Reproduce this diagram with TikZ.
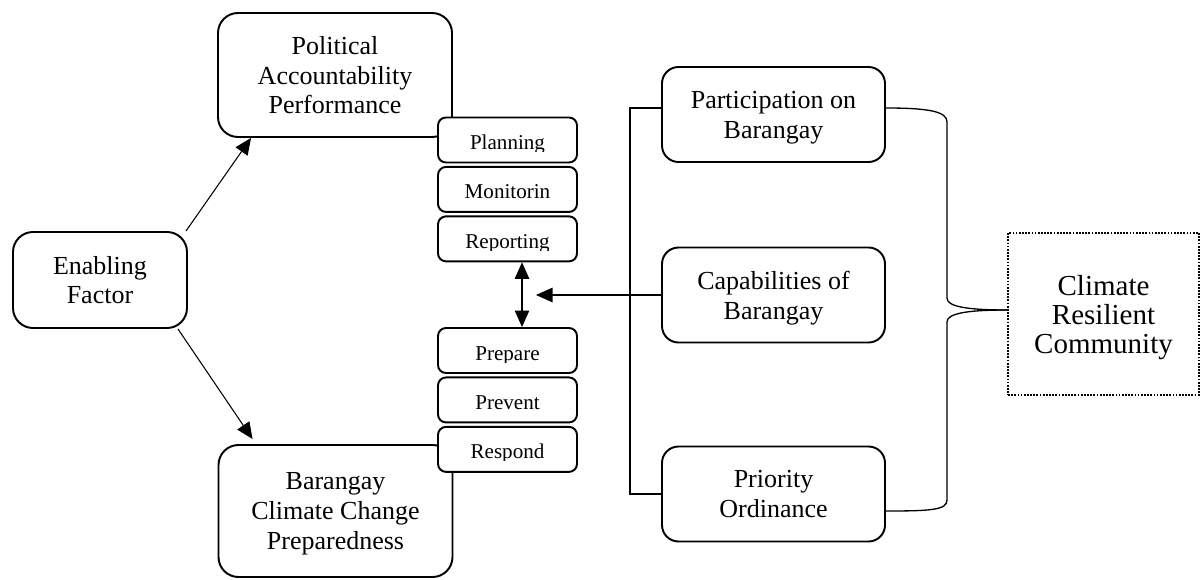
\documentclass[tikz,border=0pt]{standalone}
\usepackage{fontspec}
\setmainfont{Liberation Serif}
\usetikzlibrary{arrows.meta,positioning}

\newcommand{\boxfont}{\fontsize{14.8}{17}\selectfont}
\newcommand{\tagfont}{\fontsize{12}{14}\selectfont}
\newcommand{\goalfont}{\fontsize{16.5}{16.5}\selectfont}

\begin{document}
\begin{tikzpicture}[
    bigbox/.style={draw, line width=1.1pt, rounded corners=0.4cm, align=center,
                   text depth=0pt, minimum width=4.68cm, font=\boxfont},
    sidebox/.style={draw, line width=1.1pt, rounded corners=0.33cm, align=center,
                    text depth=0pt, minimum width=4.46cm, minimum height=1.9cm,
                    font=\boxfont},
    tagbox/.style={draw, fill=white, line width=1.1pt, rounded corners=0.16cm,
                   minimum width=2.78cm, minimum height=0.9cm,
                   path picture={
                     \clip (path picture bounding box.north west) rectangle
                           ([yshift=-0.68cm]path picture bounding box.north east);
                     \node[anchor=base, font=\tagfont, draw=none, fill=none,
                           inner sep=0pt, minimum size=0pt]
                       at ([yshift=-0.64cm]path picture bounding box.north) {#1};}},
    goalbox/.style={draw, line width=1.1pt, dash pattern=on 1pt off 0.8pt,
                    align=center, text depth=0pt, minimum width=3.82cm,
                    minimum height=3.24cm, font=\goalfont},
    arrow/.style={-{Triangle[length=0.33cm, width=0.29cm]}, line width=0.6pt},
    dblarrow/.style={{Triangle[length=0.33cm, width=0.29cm]}-{Triangle[length=0.33cm, width=0.29cm]},
                     line width=0.6pt},
    line/.style={line width=0.75pt}
]
\useasboundingbox (0,0) rectangle (24,-11.58);

% left column
\node[bigbox, minimum width=3.48cm, minimum height=1.92cm] (ef) at (2.0,-5.6) {Enabling\\Factor};
\node[bigbox, minimum height=2.48cm] (pap) at (6.7,-1.5) {Political\\Accountability\\Performance};
\node[bigbox, minimum height=2.64cm] (bcc) at (6.71,-10.22) {Barangay\\Climate Change\\Preparedness};

% stacked tags
\node[tagbox=Planning] (plan) at (10.15,-2.8) {};
\node[tagbox=Monitorin, below=0.05cm of plan] (mon) {};
\node[tagbox=Reporting, below=0.05cm of mon] (rep) {};
\node[tagbox=Prepare] (prep) at (10.15,-7.01) {};
\node[tagbox=Prevent, below=0.05cm of prep] (prev) {};
\node[tagbox=Respond, below=0.05cm of prev] (resp) {};

% right column
\node[sidebox] (part) at (15.47,-2.29) {Participation on\\Barangay};
\node[sidebox] (cap) at (15.47,-5.9) {Capabilities of\\Barangay};
\node[sidebox] (prio) at (15.47,-9.88) {Priority\\Ordinance};
\node[goalbox] (crc) at (22.07,-6.28) {Climate\\Resilient\\Community};

% connectors
\draw[arrow] ([xshift=-0.04cm]ef.north east) -- ([xshift=0.68cm]pap.south west);
\draw[arrow] ([xshift=-0.2cm]ef.south east) -- ([xshift=0.7cm, yshift=0.1cm]bcc.north west);
\draw[dblarrow] ([xshift=0.29cm]rep.south) -- ([xshift=0.29cm]prep.north);

\coordinate (captip) at (10.72,0);
\draw[arrow] (cap.west) -- (cap.west -| captip);

\coordinate (brk) at (12.6,0);
\draw[line] ([yshift=0.13cm]part.west) -| (brk |- prio.west) -- (prio.west);

% brace to the goal
\draw[line] ([yshift=0.13cm]part.east) .. controls +(0.9,0) and +(0,0.2) .. (18.94,-2.44)
    -- (18.94,-5.96) .. controls +(0,-0.16) and +(-0.86,0) .. ([yshift=0.08cm]crc.west);
\draw[line] ([yshift=0.08cm]crc.west) .. controls +(-0.86,0) and +(0,0.16) .. (18.94,-6.44)
    -- (18.94,-10.0) .. controls +(0,-0.2) and +(0.9,0) .. ([yshift=-0.34cm]prio.east);
\end{tikzpicture}
\end{document}
